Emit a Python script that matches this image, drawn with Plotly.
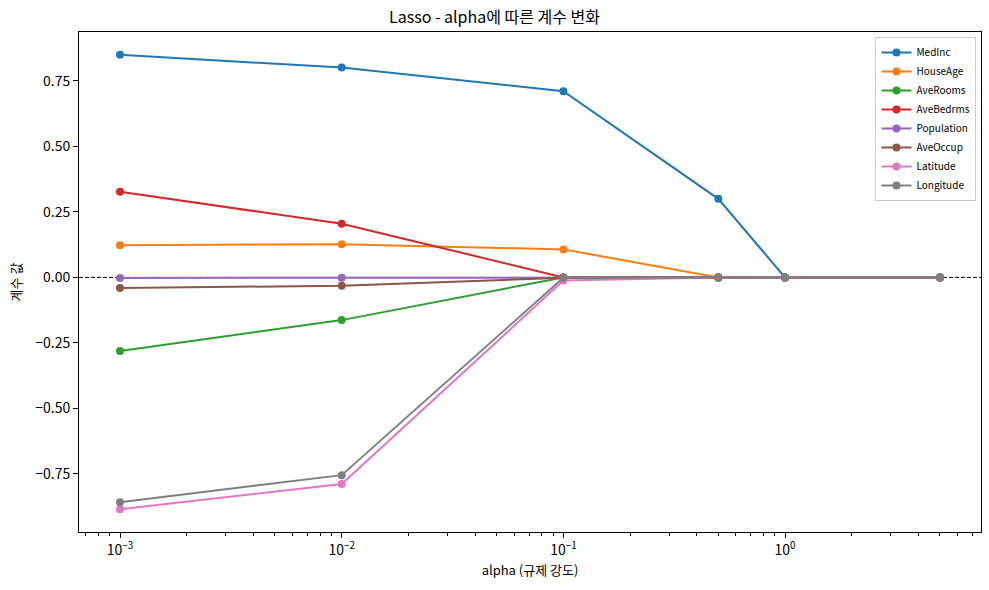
import plotly.graph_objects as go

# Lasso 계수 경로
alphas = [0.001, 0.01, 0.1, 0.5, 1, 5]
features = ["MedInc", "HouseAge", "AveRooms", "AveBedrms",
            "Population", "AveOccup", "Latitude", "Longitude"]
medinc = [0.850, 0.801, 0.711, 0.300, 0.0, 0.0]
houseage = [0.123, 0.127, 0.107, 0.0, 0.0, 0.0]
averooms = [-0.281, -0.163, 0.0, 0.0, 0.0, 0.0]
avebedrms = [0.327, 0.205, 0.0, 0.0, 0.0, 0.0]
population = [-0.002, -0.001, 0.0, 0.0, 0.0, 0.0]
aveoccup = [-0.040, -0.032, -0.001, 0.0, 0.0, 0.0]
latitude = [-0.885, -0.789, -0.012, -0.0, 0.0, 0.0]
longitude = [-0.858, -0.755, -0.001, -0.0, 0.0, 0.0]
coefs = [medinc, houseage, averooms, avebedrms, population, aveoccup, latitude, longitude]
colors = ['#1f77b4', '#ff7f0e', '#2ca02c', '#d62728',
          '#9467bd', '#8c564b', '#e377c2', '#7f7f7f']

x_ticks = [0.001, 0.01, 0.1, 1]
x_labels = ["10<sup>−3</sup>", "10<sup>−2</sup>", "10<sup>−1</sup>", "10<sup>0</sup>"]
y_ticks = [-0.75, -0.5, -0.25, 0, 0.25, 0.5, 0.75]

font = "Noto Sans CJK KR, Noto Sans, DejaVu Sans"

fig = go.Figure()
for name, vals, c in zip(features, coefs, colors):
    fig.add_trace(go.Scatter(x=alphas, y=vals, name=name, mode="lines+markers",
                             line=dict(color=c, width=2),
                             marker=dict(color=c, size=8)))

# 0 기준선
fig.add_hline(y=0, line=dict(color="black", width=1, dash="4px,2px"), layer="below")

minor_vals = [m * 10 ** e for e in range(-4, 1) for m in range(2, 10)]

fig.update_layout(
    width=989, height=590,
    margin=dict(l=79, r=8, t=32, b=58, autoexpand=False),
    plot_bgcolor="white", paper_bgcolor="white",
    font=dict(family=font, size=14, color="black"),
    title=dict(text="Lasso - alpha에 따른 계수 변화", x=0.5, xanchor="center",
               y=0.97, yanchor="middle", font=dict(size=16)),
    legend=dict(x=0.995, y=0.99, xanchor="right", yanchor="top",
                bgcolor="rgba(255,255,255,0.8)", bordercolor="#cccccc", borderwidth=1,
                font=dict(size=10), tracegroupgap=0, itemwidth=30),
    xaxis=dict(type="log", range=[-3.185, 0.884], automargin=False,
               tickvals=x_ticks, ticktext=x_labels,
               ticks="outside", ticklen=5, tickcolor="black",
               showline=True, linecolor="black", mirror=True, showgrid=False, zeroline=False,
               minor=dict(tickvals=minor_vals, ticks="outside", ticklen=3, tickcolor="black", showgrid=False),
               title=dict(text="alpha (규제 강도)", font=dict(size=13), standoff=8)),
    yaxis=dict(range=[-0.972, 0.937], tickvals=y_ticks, tickformat=".2f", automargin=False,
               ticks="outside", ticklen=5, tickcolor="black",
               showline=True, linecolor="black", mirror=True, showgrid=False, zeroline=False,
               title=dict(text="계수 값", font=dict(size=13), standoff=10)),
)

fig.write_html("out.html", config={"displayModeBar": False},
               post_script="document.body.style.margin='0';")
